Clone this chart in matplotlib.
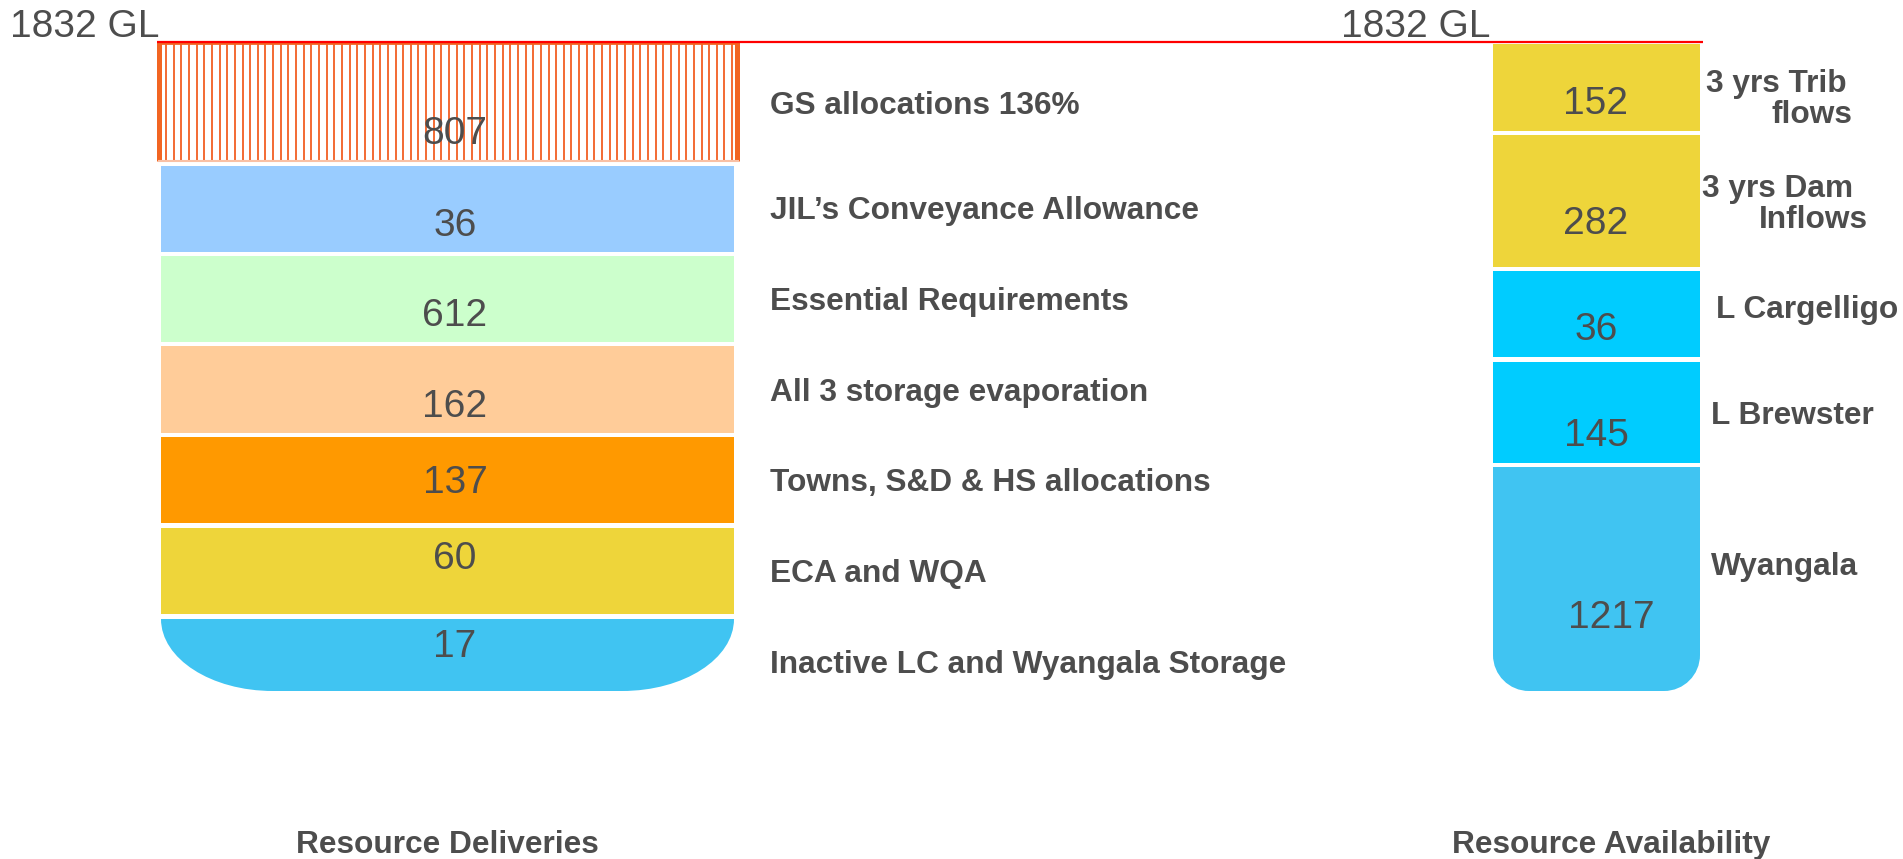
import matplotlib
matplotlib.use("Agg")
import matplotlib.pyplot as plt
import numpy as np
from matplotlib.path import Path
from matplotlib.patches import PathPatch

plt.rcParams['font.family'] = ['Liberation Sans', 'DejaVu Sans']

# ---------------- data ----------------
total_label = "1832 GL"
delivery_categories = [
    "GS allocations 136%",
    "JIL\u2019s Conveyance Allowance",
    "Essential Requirements",
    "All 3 storage evaporation",
    "Towns, S&D & HS allocations",
    "ECA and WQA",
    "Inactive LC and Wyangala Storage",
]
delivery_values = [807, 36, 612, 162, 137, 60, 17]

availability_categories = [
    ["3 yrs Trib", "flows"],
    ["3 yrs Dam", "Inflows"],
    ["L Cargelligo"],
    ["L Brewster"],
    ["Wyangala"],
]
availability_values = [152, 282, 36, 145, 1217]

column_titles = ["Resource Deliveries", "Resource Availability"]

# ---------------- layout / style (pixels of a 1903x859 canvas) ----------------
TXT = '#4D4D4D'
LAB_FS = 22.8
NUM_FS = 28
delivery_colors = [None, '#99CCFF', '#CCFFCC', '#FFCC99', '#FF9900', '#EED53A', '#40C4F2']
availability_colors = ['#EED53A', '#EED53A', '#00CCFF', '#00CCFF', '#40C4F2']

L_x0, L_x1 = 161, 734
L_tops = [42, 166, 256, 346, 437, 528, 619]
L_heights = [119, 86, 86, 87, 86, 86, 72]
L_num_x = 455
L_num_base = [144, 236, 326, 417, 493, 569, 657]
L_lab_x = 770
L_lab_base = [114, 219, 310, 401, 491, 582, 673]

R_x0, R_x1 = 1493, 1700
R_tops = [44, 135, 271, 362, 467]
R_heights = [87, 132, 86, 101, 224]
R_num_x = [1596, 1596, 1596, 1596, 1611]
R_num_base = [114, 234, 340, 446, 628]
R_lab_pos = [[(1706, 92), (1772, 123)],
             [(1702, 197), (1759, 228)],
             [(1716, 318)],
             [(1711, 424)],
             [(1711, 575)]]

W, H = 1903, 859
fig = plt.figure(figsize=(W / 100, H / 100), dpi=100)
ax = fig.add_axes([0, 0, 1, 1])
ax.set_xlim(0, W)
ax.set_ylim(H, 0)
ax.axis('off')

K = 0.5523


def rounded_bottom(x0, x1, top, bottom, rx, ry, color):
    verts = [
        (x0, top),
        (x0, bottom - ry),
        (x0, bottom - ry + K * ry), (x0 + rx - K * rx, bottom), (x0 + rx, bottom),
        (x1 - rx, bottom),
        (x1 - rx + K * rx, bottom), (x1, bottom - ry + K * ry), (x1, bottom - ry),
        (x1, top),
        (x0, top),
    ]
    codes = [Path.MOVETO,
             Path.LINETO,
             Path.CURVE4, Path.CURVE4, Path.CURVE4,
             Path.LINETO,
             Path.CURVE4, Path.CURVE4, Path.CURVE4,
             Path.LINETO,
             Path.CLOSEPOLY]
    ax.add_patch(PathPatch(Path(verts, codes), facecolor=color, edgecolor='none', zorder=2))


# ---------------- left column: Resource Deliveries ----------------
lc = (L_x0 + L_x1) / 2
lw_ = L_x1 - L_x0
n_left = len(delivery_values)
for i in range(n_left):
    top, h = L_tops[i], L_heights[i]
    if i == 0:
        # hatched over-allocation block
        ax.bar(lc, h, bottom=top, width=lw_ + 6, color='white', edgecolor='none', zorder=1)
        xs = np.arange(L_x0 + 5, L_x1 - 1, 7.65)
        ax.vlines(xs, top + 2, top + h - 1, colors='#F36A33', linewidth=1.4, zorder=2)
        ax.vlines([L_x0 - 2, L_x1 + 3], top, top + h, colors='#F26522', linewidth=3.6, zorder=3)
        ax.hlines(top + h, L_x0 - 3, L_x1 + 5, colors='#F9C0A5', linewidth=1.5, zorder=3)
        ax.hlines(top + 1, L_x0 - 3, L_x1 + 5, colors='#F26522', linewidth=2.0, zorder=3)
    elif i == n_left - 1:
        rounded_bottom(L_x0, L_x1, top, top + h, 112, h, delivery_colors[i])
    else:
        ax.bar(lc, h, bottom=top, width=lw_, color=delivery_colors[i], edgecolor='none', zorder=2)
    ax.text(L_num_x, L_num_base[i], str(delivery_values[i]), fontsize=NUM_FS, color=TXT,
            ha='center', va='baseline', zorder=5)
    ax.text(L_lab_x, L_lab_base[i], delivery_categories[i], fontsize=LAB_FS, fontweight='bold',
            color=TXT, ha='left', va='baseline', zorder=5)

# ---------------- right column: Resource Availability ----------------
rc = (R_x0 + R_x1) / 2
rw = R_x1 - R_x0
n_right = len(availability_values)
for i in range(n_right):
    top, h = R_tops[i], R_heights[i]
    if i == n_right - 1:
        rounded_bottom(R_x0, R_x1, top, top + h, 36, 36, availability_colors[i])
    else:
        ax.bar(rc, h, bottom=top, width=rw, color=availability_colors[i], edgecolor='none', zorder=2)
    ax.text(R_num_x[i], R_num_base[i], str(availability_values[i]), fontsize=NUM_FS, color=TXT,
            ha='center', va='baseline', zorder=5)
    for line, (lx, ly) in zip(availability_categories[i], R_lab_pos[i]):
        ax.text(lx, ly, line, fontsize=LAB_FS, fontweight='bold', color=TXT,
                ha='left', va='baseline', zorder=5)

# ---------------- total line and labels ----------------
ax.plot([L_x0 - 4, 1703], [42, 42], color='#FF0000', linewidth=1.6, zorder=4,
        solid_capstyle='butt')
ax.text(10, 37, total_label, fontsize=NUM_FS, color=TXT, ha='left', va='baseline')
ax.text(1490, 37, total_label, fontsize=NUM_FS, color=TXT, ha='right', va='baseline')

ax.text(447, 853, column_titles[0], fontsize=LAB_FS, fontweight='bold', color=TXT,
        ha='center', va='baseline')
ax.text(1611, 853, column_titles[1], fontsize=LAB_FS, fontweight='bold', color=TXT,
        ha='center', va='baseline')

fig.savefig('out.png', dpi=100, facecolor='white')
